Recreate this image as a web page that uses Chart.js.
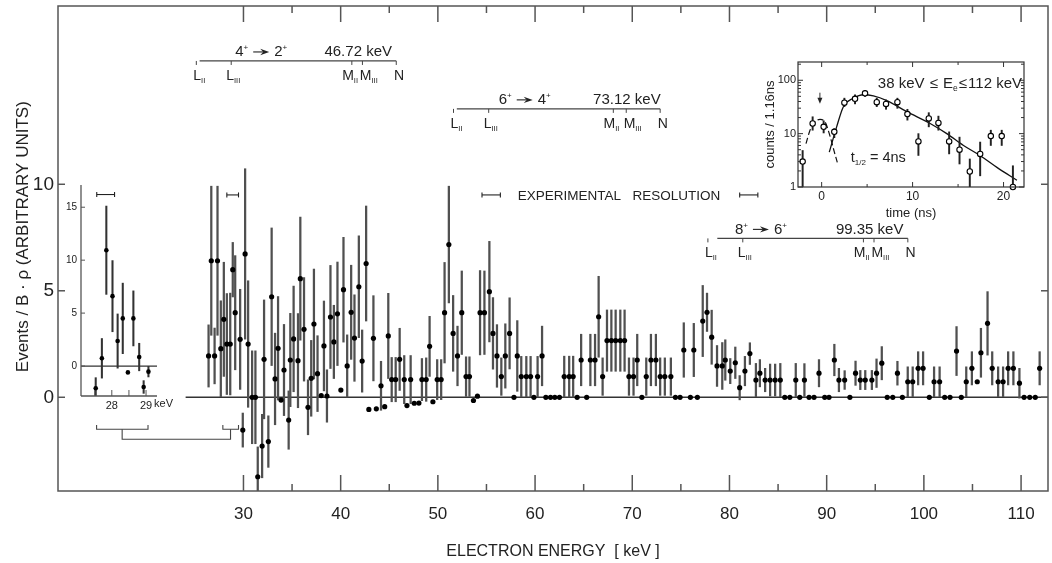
<!DOCTYPE html>
<html><head><meta charset="utf-8">
<script src="https://cdn.jsdelivr.net/npm/chart.js@4.4.1/dist/chart.umd.min.js"></script>
<style>
html,body{margin:0;padding:0;background:#fff;}
#wrap{position:relative;width:1052px;height:563px;overflow:hidden;background:#fff;}
canvas{position:absolute;}
#main{left:0;top:0;width:1052px;height:563px;}
#insL{left:40px;top:180px;width:140px;height:240px;}
#insR{left:740px;top:56px;width:290px;height:170px;}
</style></head><body>
<div id="wrap">
<canvas id="main" width="1052" height="563"></canvas>
<canvas id="insL" width="140" height="240"></canvas>
<canvas id="insR" width="290" height="170"></canvas>
</div>
<script>
// ---------------- main spectrum ----------------
const energy = [
 26.41,26.69,27.03,27.33,27.67,27.98,28.29,28.64,28.90,29.15,
 29.66,29.93,30.17,30.48,30.89,31.23,31.47,31.92,32.12,32.56,
 32.90,33.25,33.56,33.87,34.17,34.65,34.82,35.16,35.61,35.85,
 36.23,36.64,36.97,37.25,37.62,38.00,38.28,38.59,38.95,39.30,
 39.67,40.02,40.29,40.67,41.08,41.42,41.87,42.21,42.62,42.90,
 43.37,43.67,44.15,44.53,44.90,45.25,45.66,46.07,46.54,46.82,
 47.20,47.57,48.05,48.36,48.80,49.15,49.49,49.93,50.34,50.69,
 51.13,51.57,52.02,52.46,52.90,53.25,53.66,54.07,54.34,54.79,
 55.30,55.67,56.08,56.53,56.94,57.38,57.83,58.17,58.58,59.10,
 59.54,59.88,60.26,60.72,61.11,61.59,62.03,62.51,63.00,63.51,
 63.92,64.33,64.74,65.31,65.69,66.17,66.54,66.95,67.40,67.85,
 68.29,68.77,69.21,69.66,70.13,70.51,70.99,71.44,71.92,72.43,
 72.87,73.35,73.97,74.44,74.92,75.30,75.98,76.33,76.70,77.25,
 77.69,78.17,78.72,79.26,79.57,80.08,80.60,81.05,81.59,82.10,
 82.72,83.13,83.67,84.18,84.70,85.23,85.69,86.21,86.82,87.23,
 87.71,88.19,88.70,89.21,89.80,90.24,90.79,91.26,91.85,92.39,
 92.97,93.46,93.97,94.65,95.13,95.67,96.23,96.80,97.28,97.79,
 98.34,98.85,99.41,99.92,100.56,101.05,101.62,102.14,102.69,103.36,
 103.85,104.36,104.94,105.49,105.87,106.55,107.03,107.64,108.15,108.67,
 109.21,109.83,110.31,110.89,111.46,111.91];
const events = [
 1.94,6.41,1.94,6.41,2.28,3.66,2.50,2.50,5.99,3.97,
 2.72,-1.54,6.73,2.50,0,0,-3.73,-2.29,1.78,-2.08,
 4.72,0.86,2.30,-0.13,1.28,-1.07,1.75,2.74,1.72,5.57,
 3.19,-0.47,0.89,3.44,1.11,0.08,2.41,0.06,3.77,2.60,
 3.92,0.34,5.05,1.47,3.99,2.78,5.19,1.70,6.28,-0.57,
 2.77,-0.54,0.54,-0.44,2.88,0.83,0.83,1.78,0.83,-0.39,
 0.83,-0.28,-0.27,0.83,0.83,2.39,-0.21,0.83,0.83,3.97,
 7.17,3.00,1.94,3.97,0.97,0.97,-0.15,0.05,3.97,3.97,
 4.96,3.00,1.94,0.97,1.94,3.00,0,1.94,0.97,0.97,
 0.97,0,0.97,1.94,0,0,0,0,0.97,0.97,
 0.97,0,1.75,0,1.75,1.75,3.78,0.97,2.66,2.66,
 2.66,2.66,2.66,0.97,0.97,1.75,0,0.97,1.75,1.75,
 0.97,0.97,0.97,0,0,2.22,0,2.22,0,3.58,
 3.99,2.82,1.47,1.47,1.75,1.23,1.62,0.45,1.23,2.05,
 0.81,1.13,0.81,0.81,0.81,0.81,0,0,0.81,0,
 0.81,0,0,1.13,0,0,1.75,0.81,0.81,0,
 1.13,0.81,0.81,0.81,1.13,1.60,0,0,1.13,0,
 0.73,0.73,1.36,1.36,0,0.73,0.73,0,0,2.17,
 0,0.73,1.36,0.73,2.09,3.47,1.36,0.73,0.73,1.36,
 1.36,0.66,0,0,0,1.36];
const errors = [
 1.46,3.50,1.31,3.50,2.25,2.68,2.37,2.39,1.28,2.68,
 2.35,0.80,4.00,2.97,2.18,2.18,1.40,1.49,2.79,1.21,
 3.23,2.15,2.43,0,2.14,1.37,2.19,2.48,2.21,2.89,
 2.43,1.29,1.78,2.58,1.78,0,2.11,1.23,2.42,1.72,
 2.43,0,2.46,1.46,2.21,2.03,2.39,1.46,2.70,0,
 2.00,0,1.15,0,2.00,1.04,1.04,1.46,1.13,0,
 1.13,0,0,0.99,1.02,1.41,0,0.94,0.94,2.36,
 2.74,1.78,1.40,1.96,0.93,0.93,0,0,1.98,1.96,
 2.36,1.68,1.47,0.88,1.51,1.67,0,1.66,0.95,0.95,
 0.95,0,0.95,1.40,0,0,0,0,0.96,0.96,
 0.96,0,1.21,0,1.21,1.21,1.90,0.88,1.44,1.44,
 1.44,1.44,1.44,0.88,0.88,1.21,0,0.88,1.21,1.21,
 0.88,0.88,0.88,0,0,1.28,0,1.25,0,1.67,
 0.90,1.27,0.96,1.10,0.95,0.59,0.74,0.57,0.69,0.51,
 0.78,0.64,0.55,0.75,0.75,0.78,0,0,0.78,0,
 0.77,0,0,0.64,0,0,0.74,0.55,0.44,0,
 0.57,0.45,0.45,0.45,0.67,0.78,0,0,0.56,0,
 0.70,0.70,0.78,0.78,0,0.70,0.70,0,0,1.15,
 0,0.70,0.78,0,1.15,1.49,0.78,0.70,0.70,0.78,
 0.78,0.70,0,0,0,0.78];
const xTicks = [30,35,40,45,50,55,60,65,70,75,80,85,90,95,100,105,110];
const yTicks = [0,5,10];

// conversion-line annotations (gamma energy, spins, shell line positions in keV)
const transGamma = ['46.72','73.12','99.35'];
const transSpin = [['4','2'],['6','4'],['8','6']];
const shellNames = [['L','II'],['L','III'],['M','II'],['M','III'],['N','']];
const shellE = [[25.15,28.74,41.15,42.24,45.72],[51.61,55.23,68.05,69.38,72.87],[77.78,81.37,93.78,94.87,98.35]];
const transLineY = [15.79,13.54,7.46];
const transLineStart = [25.49,51.95,78.75];
const transSpinE = [29.15,56.26,80.56];
const transEnergyE = [45.28,72.92,97.90];
const resolutionBars = [[28.29,29.49],[54.54,56.43],[81.05,82.92]];

// inset (left): zoom of 27.5 - 29 keV
const insE = [27.53,27.71,27.84,28.02,28.17,28.32,28.47,28.63,28.80,28.93,29.07];
const insV = [-2.1,0.73,10.94,6.6,2.36,4.5,-0.6,4.5,0.85,-1.98,-0.53];
const insErr = [1.0,1.87,4.17,3.36,2.56,3.33,0,2.6,1.3,0.6,0.5];
const insXTicks = [27.5,28,28.5,29];
const insYTicks = [0,5,10,15];

// inset (right): time spectrum
const timeNs = [-2.09,-0.99,0.22,1.39,2.50,3.67,4.77,6.06,7.08,8.33,9.43,10.64,11.78,12.84,14.02,15.16,16.29,17.43,18.60,19.80,21.03];
const timeCounts = [3.0,15.5,13.4,10.8,38,44.9,57,38.9,36,38.9,23.3,7.15,19.3,15.9,7.15,5.0,1.95,4.17,9.0,9.0,1.0];
const timeLo = [1.0,11.6,10.3,8.4,32.1,36.1,49.7,32.1,28.6,29.8,17.9,3.9,13.4,11.6,4.17,2.7,1.0,1.62,6.0,6.0,1.0];
const timeHi = [4.83,20.7,17.4,12.4,46.2,53.4,64.6,46.2,42.9,46.2,28.6,10,24.7,21.3,10.8,8.6,3.35,6.95,11.6,11.6,2.5];
const fitT = [0.84,1.65,2.39,3.49,4.59,5.69,7.16,9.36,11.93,13.76,15.6,17.4,19.27,21.47];
const fitC = [4.5,13.4,32,46,53.5,51,41.7,25.8,15.5,10,6,3.9,2.33,1.34];
const promptT = [-1.72,-1.28,-0.73,-0.18,0.37,0.92,1.4,1.72];
const promptC = [6.5,11.6,16.6,18.5,16.6,9,4.5,2.9];
const tTicks = [0,5,10,15,20];
const cTicks = [1,10,100];

// ---------------- helpers ----------------
const FONT = '"Liberation Sans", Arial, Helvetica, sans-serif';
Chart.defaults.font.family = FONT;
Chart.defaults.color = '#222';
const INK = '#222';

function errBars(xs, ys, es){
  const out=[]; xs.forEach((x,i)=>{ if(es[i]>0) out.push({x:x, y:[ys[i]-es[i], ys[i]+es[i]]}); }); return out;
}
function pts(xs, ys){ return xs.map((x,i)=>({x:x,y:ys[i]})); }
function line(ctx,x1,y1,x2,y2){ ctx.beginPath(); ctx.moveTo(x1,y1); ctx.lineTo(x2,y2); ctx.stroke(); }
function rich(ctx, parts, x, y, align){
  ctx.save(); ctx.textBaseline='alphabetic'; ctx.textAlign='left'; ctx.fillStyle=INK; ctx.strokeStyle=INK;
  let w=0;
  for(const p of parts){ if(p.arrow){p.w=p.len;} else {ctx.font=p.size+'px '+FONT; p.w=ctx.measureText(p.t).width;} w+=p.w+(p.pad||0); }
  let cx = align==='right' ? x-w : (align==='center' ? x-w/2 : x);
  for(const p of parts){
    cx += (p.pad||0);
    if(p.arrow){
      const ay=y-p.h; ctx.lineWidth=1.1;
      line(ctx,cx,ay,cx+p.len-6,ay);
      ctx.beginPath(); ctx.moveTo(cx+p.len-9,ay-3.2); ctx.lineTo(cx+p.len,ay); ctx.lineTo(cx+p.len-9,ay+3.2); ctx.lineTo(cx+p.len-6,ay); ctx.closePath(); ctx.fill();
    } else { ctx.font=p.size+'px '+FONT; ctx.fillText(p.t,cx,y+(p.dy||0)); }
    cx += p.w;
  }
  ctx.restore();
}
function resBar(ctx,x1,x2,y){ ctx.save(); ctx.strokeStyle=INK; ctx.lineWidth=1.1; line(ctx,x1,y,x2,y); line(ctx,x1,y-2.5,x1,y+2.5); line(ctx,x2,y-2.5,x2,y+2.5); ctx.restore(); }
function noPadY(s){ s.paddingTop=0; s.paddingBottom=0; }
function noPadX(s){ s.paddingLeft=0; s.paddingRight=0; }

// ---------------- main chart plugins ----------------
const mainFrame = {
  id:'mainFrame',
  afterDraw(chart){
    const {ctx, chartArea:a, scales:{x,y}} = chart;
    ctx.save(); ctx.strokeStyle='#555'; ctx.lineWidth=1.5;
    ctx.strokeRect(a.left,a.top,a.right-a.left,a.bottom-a.top);
    x.ticks.forEach(t=>{ const px=x.getPixelForValue(t.value); const L=(t.value%10===0)?16:7;
      line(ctx,px,a.bottom,px,a.bottom-L); line(ctx,px,a.top,px,a.top+L); });
    y.ticks.forEach(t=>{ const py=y.getPixelForValue(t.value); line(ctx,a.left,py,a.left+7,py); line(ctx,a.right,py,a.right-7,py); });
    ctx.restore();
  }
};
const mainAnnot = {
  id:'mainAnnot',
  afterDatasetsDraw(chart){
    const {ctx, scales:{x,y}} = chart;
    ctx.save();
    const labOff = [-3,-5,-9.7,-2.6,-2.3];
    for(let k=0;k<3;k++){
      const ly = y.getPixelForValue(transLineY[k]);
      const xs = shellE[k].map(e=>x.getPixelForValue(e));
      ctx.strokeStyle='#444'; ctx.lineWidth=1.3;
      line(ctx, x.getPixelForValue(transLineStart[k]), ly, xs[4], ly);
      ctx.lineWidth=1;
      xs.forEach(px=>line(ctx,px,ly,px,ly+4));
      xs.forEach((px,i)=>{
        const nm = shellNames[i];
        rich(ctx,[{t:nm[0],size:14},{t:nm[1],size:7.5,dy:3}], px+labOff[i], ly+19, 'left');
      });
      rich(ctx,[{t:transSpin[k][0],size:15},{t:'+',size:8,dy:-6},{arrow:true,len:16,h:4.5,pad:5},{t:transSpin[k][1],size:15,pad:5},{t:'+',size:8,dy:-6}],
        x.getPixelForValue(transSpinE[k]), ly-4.5, 'left');
      rich(ctx,[{t:transGamma[k]+' keV',size:15}], x.getPixelForValue(transEnergyE[k]), ly-4.5, 'right');
    }
    const ry = y.getPixelForValue(9.5);
    resolutionBars.forEach(b=>resBar(ctx,x.getPixelForValue(b[0]),x.getPixelForValue(b[1]),ry));
    rich(ctx,[{t:'EXPERIMENTAL',size:13.5}], x.getPixelForValue(58.21), ry+5, 'left');
    rich(ctx,[{t:'RESOLUTION',size:13.5}], x.getPixelForValue(70.03), ry+5, 'left');
    // bracket linking the left inset to the 28-29.5 keV region
    ctx.strokeStyle='#444'; ctx.lineWidth=1.1;
    const bY1=y.getPixelForValue(-1.30), bY2=y.getPixelForValue(-1.50), bY3=y.getPixelForValue(-1.97);
    const L1=x.getPixelForValue(14.89), L2=x.getPixelForValue(20.18), Lc=x.getPixelForValue(17.52);
    const R1=x.getPixelForValue(27.88), R2=x.getPixelForValue(29.49), Rc=x.getPixelForValue(28.67);
    ctx.beginPath(); ctx.moveTo(L1,bY1); ctx.lineTo(L1,bY2); ctx.lineTo(L2,bY2); ctx.lineTo(L2,bY1); ctx.stroke();
    ctx.beginPath(); ctx.moveTo(R1,bY1); ctx.lineTo(R1,bY2); ctx.lineTo(R2,bY2); ctx.lineTo(R2,bY1); ctx.stroke();
    ctx.beginPath(); ctx.moveTo(Lc,bY2); ctx.lineTo(Lc,bY3); ctx.lineTo(Rc,bY3); ctx.lineTo(Rc,bY2); ctx.stroke();
    ctx.restore();
  }
};

new Chart(document.getElementById('main'), {
  type:'scatter',
  data:{datasets:[
    {type:'line', data:[{x:24.05,y:0},{x:112.77,y:0}], borderColor:'#333', borderWidth:1.4, pointRadius:0, order:3},
    {type:'bar', data:errBars(energy,events,errors), backgroundColor:'#505050', barThickness:1.6, grouped:false, order:2},
    {type:'scatter', data:pts(energy,events), pointRadius:2.6, backgroundColor:'#000', borderWidth:0, order:1}
  ]},
  options:{
    responsive:false, animation:false, events:[],
    layout:{padding:{top:6,right:1,left:0,bottom:0}},
    plugins:{legend:{display:false}, tooltip:{enabled:false}},
    scales:{
      x:{type:'linear', min:10.92, max:112.77, offset:false,
        afterBuildTicks:s=>{ s.ticks = xTicks.map(v=>({value:v})); },
        afterFit:s=>{ s.height=72; noPadX(s); },
        grid:{display:false, drawTicks:false, tickLength:0}, border:{display:false},
        ticks:{autoSkip:false, maxRotation:0, padding:13, font:{size:17}, color:'#222', callback:v=>(v%10===0?String(v):'')},
        title:{display:true, text:'ELECTRON ENERGY  [ keV ]', font:{size:16}, color:'#222', padding:{top:0,bottom:2}}
      },
      y:{type:'linear', min:-4.40, max:18.37,
        afterBuildTicks:s=>{ s.ticks = yTicks.map(v=>({value:v})); },
        afterFit:s=>{ s.width=58; noPadY(s); },
        grid:{display:false, drawTicks:false, tickLength:0}, border:{display:false},
        ticks:{padding:4, font:{size:19}, color:'#222', callback:v=>String(v)},
        title:{display:true, text:'\u00a0\u00a0\u00a0\u00a0\u00a0Events / B \u00b7 \u03c1 (ARBITRARY UNITS)', font:{size:17}, color:'#222', padding:{top:13,bottom:0}}
      }
    }
  },
  plugins:[mainFrame, mainAnnot]
});

// ---------------- left inset ----------------
const insLPlugin = {
  id:'insL',
  afterDraw(chart){
    const {ctx, chartArea:a, scales:{x,y}} = chart;
    ctx.save(); ctx.strokeStyle='#555'; ctx.lineWidth=1.3;
    line(ctx,a.left,a.top,a.left,a.bottom); line(ctx,a.left,a.bottom,a.right,a.bottom);
    ctx.lineWidth=1;
    x.ticks.forEach(t=>{ const px=x.getPixelForValue(t.value); line(ctx,px,a.bottom,px,a.bottom-6); });
    y.ticks.forEach(t=>{ const py=y.getPixelForValue(t.value); line(ctx,a.left,py,a.left+4,py); });
    ctx.restore();
    resBar(ctx, x.getPixelForValue(27.56), x.getPixelForValue(28.08), y.getPixelForValue(16.2));
    ctx.save(); ctx.font='11px '+FONT; ctx.fillStyle=INK; ctx.textBaseline='middle';
    ctx.fillText('keV', x.getPixelForValue(29)+8, a.bottom+8); ctx.restore();
  }
};
new Chart(document.getElementById('insL'), {
  type:'scatter',
  data:{datasets:[
    {type:'line', data:[{x:27.1,y:0},{x:29.32,y:0}], borderColor:'#333', borderWidth:1.2, pointRadius:0, order:3},
    {type:'bar', data:errBars(insE,insV,insErr), backgroundColor:'#333', barThickness:1.4, grouped:false, order:2},
    {type:'scatter', data:pts(insE,insV), pointRadius:2.3, backgroundColor:'#000', borderWidth:0, order:1}
  ]},
  options:{
    responsive:false, animation:false, events:[],
    layout:{padding:{top:5,right:23,left:0,bottom:0}},
    plugins:{legend:{display:false}, tooltip:{enabled:false}},
    scales:{
      x:{type:'linear', min:27.1, max:29.32, offset:false,
        afterBuildTicks:s=>{ s.ticks = insXTicks.map(v=>({value:v})); },
        afterFit:s=>{ s.height=24; noPadX(s); },
        grid:{display:false, drawTicks:false, tickLength:0}, border:{display:false},
        ticks:{autoSkip:false, maxRotation:0, padding:3, font:{size:11}, color:'#222', callback:v=>((v===28||v===29)?String(v):'')}
      },
      y:{type:'linear', min:-2.83, max:17.1,
        afterBuildTicks:s=>{ s.ticks = insYTicks.map(v=>({value:v})); },
        afterFit:s=>{ s.width=41; noPadY(s); },
        grid:{display:false, drawTicks:false, tickLength:0}, border:{display:false},
        ticks:{padding:4, font:{size:10}, color:'#222', callback:v=>String(v)}
      }
    }
  },
  plugins:[insLPlugin]
});

// ---------------- right inset ----------------
const insRPlugin = {
  id:'insR',
  afterDraw(chart){
    const {ctx, chartArea:a, scales:{x,y}} = chart;
    ctx.save(); ctx.strokeStyle='#333'; ctx.lineWidth=1.2;
    ctx.strokeRect(a.left,a.top,a.right-a.left,a.bottom-a.top);
    ctx.lineWidth=1;
    tTicks.forEach(v=>{ const px=x.getPixelForValue(v); const L=(v%10===0)?5:3;
      line(ctx,px,a.bottom,px,a.bottom-L); line(ctx,px,a.top,px,a.top+L); });
    for(let d=1; d<=100; d*=10){ for(let m=1;m<=9;m++){ const v=m*d; if(v>y.max) break;
      const py=y.getPixelForValue(v); const L=(m===1)?5:3;
      line(ctx,a.left,py,a.left+L,py); line(ctx,a.right,py,a.right-L,py); } }
    // arrow marking the prompt time
    const ax=x.getPixelForValue(-0.19), ay1=y.getPixelForValue(58.5), ay2=y.getPixelForValue(38);
    line(ctx,ax,ay1,ax,ay2-3);
    ctx.fillStyle=INK; ctx.beginPath(); ctx.moveTo(ax-2.5,ay2-5); ctx.lineTo(ax+2.5,ay2-5); ctx.lineTo(ax,ay2+1); ctx.closePath(); ctx.fill();
    ctx.restore();
    rich(ctx,[{t:'38 keV ',size:15},{t:'\u2264',size:15,pad:1},{t:' E',size:15,pad:1},{t:'e',size:8.5,dy:3},{t:'\u2264',size:15,pad:1},{t:'112 keV',size:15,pad:1}],
      x.getPixelForValue(22.03), y.getPixelForValue(72.8), 'right');
    rich(ctx,[{t:'t',size:14.5},{t:'1/2',size:8,dy:3},{t:' = 4ns',size:14.5}], x.getPixelForValue(3.2), y.getPixelForValue(2.92), 'left');
  }
};
new Chart(document.getElementById('insR'), {
  type:'scatter',
  data:{datasets:[
    {type:'line', data:pts(fitT,fitC), borderColor:'#111', borderWidth:1.3, pointRadius:0, cubicInterpolationMode:'monotone', order:4},
    {type:'line', data:pts(promptT,promptC), borderColor:'#111', borderWidth:1.2, borderDash:[6,3], pointRadius:0, cubicInterpolationMode:'monotone', order:4},
    {type:'bar', data:timeNs.map((t,i)=>({x:t, y:[timeLo[i],timeHi[i]]})), backgroundColor:'#222', barThickness:1.3, grouped:false, order:2},
    {type:'scatter', data:pts(timeNs,timeCounts), pointRadius:2.7, backgroundColor:'#fff', borderColor:'#000', borderWidth:1.1, clip:false, order:1}
  ]},
  options:{
    responsive:false, animation:false, events:[],
    layout:{padding:{top:6,right:6,left:0,bottom:0}},
    plugins:{legend:{display:false}, tooltip:{enabled:false}},
    scales:{
      x:{type:'linear', min:-2.6, max:22.25, offset:false,
        afterBuildTicks:s=>{ s.ticks = tTicks.map(v=>({value:v})); },
        afterFit:s=>{ s.height=39; noPadX(s); },
        grid:{display:false, drawTicks:false, tickLength:0}, border:{display:false},
        ticks:{autoSkip:false, maxRotation:0, padding:2, font:{size:12}, color:'#222', callback:v=>(v%10===0?String(v):'')},
        title:{display:true, text:'time (ns)', font:{size:13}, color:'#222', padding:{top:0,bottom:5}}
      },
      y:{type:'logarithmic', min:1, max:220,
        afterBuildTicks:s=>{ s.ticks = cTicks.map(v=>({value:v})); },
        afterFit:s=>{ s.width=58; noPadY(s); },
        grid:{display:false, drawTicks:false, tickLength:0}, border:{display:false},
        ticks:{padding:2, font:{size:11}, color:'#222', callback:v=>String(v)},
        title:{display:true, text:'counts / 1.16ns', font:{size:13}, color:'#222', padding:{top:23,bottom:0}}
      }
    }
  },
  plugins:[insRPlugin]
});
</script>
</body></html>
